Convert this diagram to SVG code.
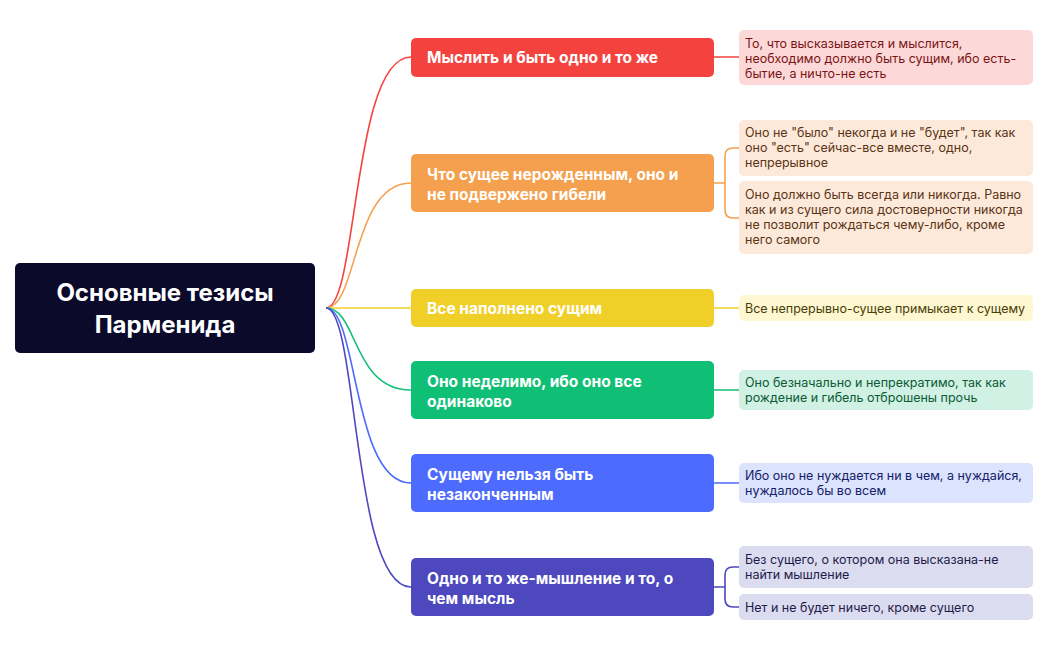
<svg xmlns="http://www.w3.org/2000/svg" width="1049" height="650" viewBox="0 0 1049 650">
<style>
text{font-family:Inter,"Noto Sans",sans-serif}
.b{font-size:15.5px;font-weight:700;fill:#fff}
.l{font-size:12.5px}
.c{fill:none;stroke-width:1.6}
</style>
<rect width="1049" height="650" fill="#fff"/>
<g id="connectors">
<path class="c" stroke="#f4433f" d="M326 308 C358 308 352 57 411 57 M714 57 H739"/>
<path class="c" stroke="#f5a04e" d="M326 308 C358 308 352 183 411 183 M714 183 H725 M739 148 H733 Q725 148 725 156 V210 Q725 218 733 218 H739"/>
<path class="c" stroke="#f0d028" d="M326 308 H411 M714 308 H739"/>
<path class="c" stroke="#10bf76" d="M326 308 C358 308 352 390 411 390 M714 390 H739"/>
<path class="c" stroke="#4d6bfe" d="M326 308 C358 308 352 483 411 483 M714 483 H739"/>
<path class="c" stroke="#4d48bd" d="M326 308 C358 308 352 587 411 587 M714 587 H725 M739 567 H733 Q725 567 725 575 V599 Q725 607 733 607 H739"/>
</g>
<g id="root"><rect x="15" y="263" width="300" height="90" rx="5" fill="#0b0a2a"/>
<text x="165" y="301" text-anchor="middle" font-size="24" font-weight="700" fill="#fff">Основные тезисы</text>
<text x="165" y="333" text-anchor="middle" font-size="24" font-weight="700" fill="#fff">Парменида</text></g>
<g id="b1"><rect x="411" y="38" width="303" height="39" rx="5" fill="#f4433f"/><text class="b" x="427" y="63">Мыслить и быть одно и то же</text></g>
<g id="b2"><rect x="411" y="154" width="303" height="58" rx="5" fill="#f5a04e"/><text class="b" x="427" y="180">Что сущее нерожденным, оно и</text><text class="b" x="427" y="200">не подвержено гибели</text></g>
<g id="b3"><rect x="411" y="289" width="303" height="38" rx="5" fill="#f0d028"/><text class="b" x="427" y="314">Все наполнено сущим</text></g>
<g id="b4"><rect x="411" y="361" width="303" height="58" rx="5" fill="#10bf76"/><text class="b" x="427" y="387">Оно неделимо, ибо оно все</text><text class="b" x="427" y="407">одинаково</text></g>
<g id="b5"><rect x="411" y="454" width="303" height="58" rx="5" fill="#4d6bfe"/><text class="b" x="427" y="480">Сущему нельзя быть</text><text class="b" x="427" y="500">незаконченным</text></g>
<g id="b6"><rect x="411" y="558" width="303" height="58" rx="5" fill="#4d48bd"/><text class="b" x="427" y="584">Одно и то же-мышление и то, о</text><text class="b" x="427" y="604">чем мысль</text></g>
<g id="l1"><rect x="739" y="30" width="294" height="55" rx="5" fill="#fdd8d8"/><text class="l" fill="#7a1414"><tspan x="745" y="48">То, что высказывается и мыслится,</tspan><tspan x="745" y="63">необходимо должно быть сущим, ибо есть-</tspan><tspan x="745" y="78">бытие, а ничто-не есть</tspan></text></g>
<g id="l2a"><rect x="739" y="120" width="294" height="56" rx="5" fill="#fde9d9"/><text class="l" fill="#5a3416"><tspan x="745" y="137">Оно не "было" некогда и не "будет", так как</tspan><tspan x="745" y="152">оно "есть" сейчас-все вместе, одно,</tspan><tspan x="745" y="167">непрерывное</tspan></text></g>
<g id="l2b"><rect x="739" y="181" width="294" height="73" rx="5" fill="#fde9d9"/><text class="l" fill="#5a3416"><tspan x="745" y="199">Оно должно быть всегда или никогда. Равно</tspan><tspan x="745" y="214">как и из сущего сила достоверности никогда</tspan><tspan x="745" y="229">не позволит рождаться чему-либо, кроме</tspan><tspan x="745" y="244">него самого</tspan></text></g>
<g id="l3"><rect x="739" y="295" width="294" height="26" rx="5" fill="#fdf7d2"/><text class="l" fill="#4a3d05" x="745" y="313">Все непрерывно-сущее примыкает к сущему</text></g>
<g id="l4"><rect x="739" y="370" width="294" height="40" rx="5" fill="#d0f1e3"/><text class="l" fill="#0c5a36"><tspan x="745" y="387">Оно безначально и непрекратимо, так как</tspan><tspan x="745" y="402">рождение и гибель отброшены прочь</tspan></text></g>
<g id="l5"><rect x="739" y="463" width="294" height="40" rx="5" fill="#dce3fc"/><text class="l" fill="#14206a"><tspan x="745" y="480">Ибо оно не нуждается ни в чем, а нуждайся,</tspan><tspan x="745" y="495">нуждалось бы во всем</tspan></text></g>
<g id="l6a"><rect x="739" y="546" width="294" height="42" rx="5" fill="#dcdcf0"/><text class="l" fill="#1e1b4a"><tspan x="745" y="564">Без сущего, о котором она высказана-не</tspan><tspan x="745" y="579">найти мышление</tspan></text></g>
<g id="l6b"><rect x="739" y="594" width="294" height="26" rx="5" fill="#dcdcf0"/><text class="l" fill="#1e1b4a" x="745" y="612">Нет и не будет ничего, кроме сущего</text></g>
</svg>
